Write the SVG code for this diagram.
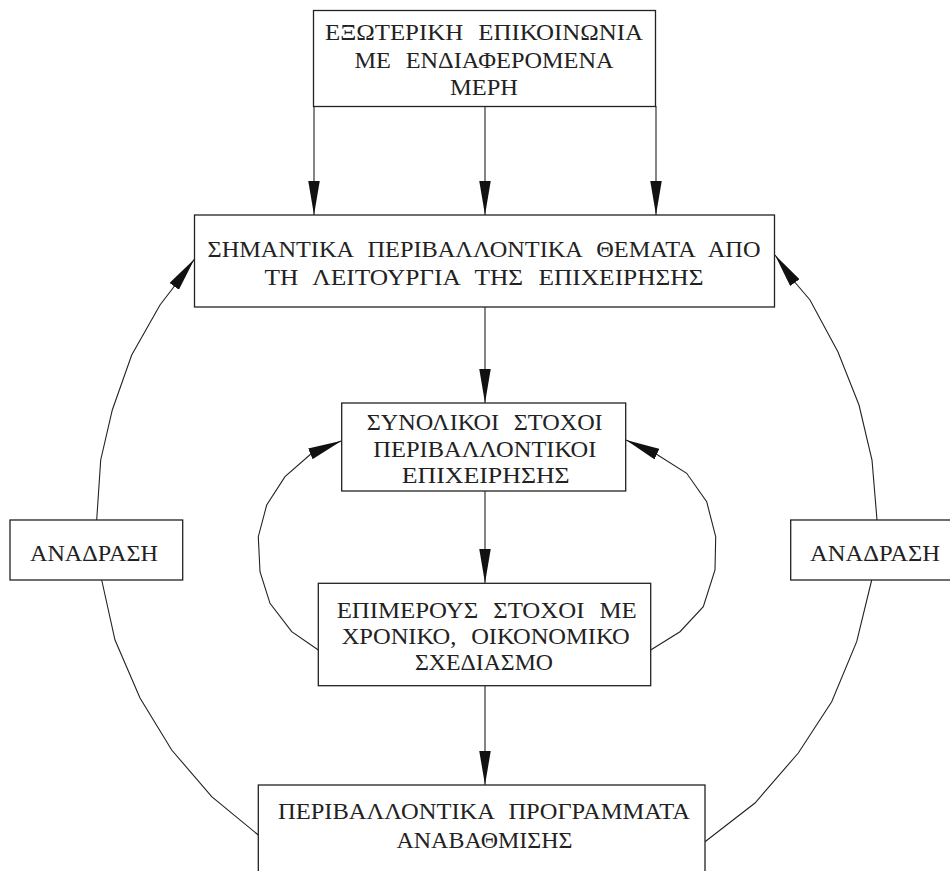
<svg xmlns="http://www.w3.org/2000/svg" width="950" height="871" viewBox="0 0 950 871">
  <defs>
    <marker id="arrow" markerUnits="userSpaceOnUse" markerWidth="35" markerHeight="12" refX="34" refY="5.75" orient="auto">
      <path d="M0,0 L34,5.75 L0,11.5 z" fill="#111"/>
    </marker>
    <style>
      .box { fill: #fff; stroke: #222; stroke-width: 1.3; }
      .lbl { font-family: "Liberation Serif", "DejaVu Serif", serif; font-size: 22.5px; fill: #222; text-anchor: start; word-spacing: 8px; }
      .edge { fill: none; stroke: #222; stroke-width: 1.1; marker-end: url(#arrow); }
      .link { fill: none; stroke: #222; stroke-width: 1.1; }
    </style>
  </defs>
  <rect width="950" height="871" fill="#fff"/>

  <!-- connectors -->
  <g id="connectors">
    <line class="edge" x1="314" y1="106" x2="314" y2="215"/>
    <line class="edge" x1="485" y1="106" x2="485" y2="215"/>
    <line class="edge" x1="656" y1="106" x2="656" y2="215"/>
    <line class="edge" x1="485" y1="307" x2="485" y2="403"/>
    <line class="edge" x1="485" y1="491" x2="485" y2="583"/>
    <line class="edge" x1="485" y1="686" x2="485" y2="785"/>
    <!-- outer feedback loops -->
    <polyline class="edge" points="96.7,520 100.7,460 112.3,410 131.7,355 160,305 173,288 194.5,259"/>
    <polyline class="edge" points="877,520 872,460 859,405 838,352 810,300 793,280 775,255"/>
    <polyline class="link" points="101.7,580 115,640 140,698 171.7,750 211.7,796.7 258.3,835"/>
    <polyline class="link" points="871.7,580 856.7,641.7 831.7,701.7 798.3,753 755,803 705,841.7"/>
    <!-- inner loops -->
    <polyline class="edge" points="318.3,650 291.7,631.7 270,603.3 260,571.7 258.3,536.7 266.7,505 285,476.7 311.7,453.3 341.7,440.7"/>
    <polyline class="edge" points="650.7,650 680,631.7 703.3,606.7 715,570 715.7,536.7 706.7,501.7 686.7,473.3 655,453.3 626,440"/>
  </g>

  <g id="external">
    <rect class="box" x="313.5" y="10.5" width="342" height="96"/>
    <text class="lbl" x="325" y="39.5" textLength="318" lengthAdjust="spacingAndGlyphs">ΕΞΩΤΕΡΙΚΗ ΕΠΙΚΟΙΝΩΝΙΑ</text>
    <text class="lbl" x="354.5" y="67.5" textLength="259" lengthAdjust="spacingAndGlyphs">ΜΕ ΕΝΔΙΑΦΕΡΟΜΕΝΑ</text>
    <text class="lbl" x="450" y="95" textLength="68" lengthAdjust="spacingAndGlyphs">ΜΕΡΗ</text>
  </g>

  <g id="issues">
    <rect class="box" x="194.5" y="215" width="580" height="92"/>
    <text class="lbl" x="207.5" y="257" textLength="553" lengthAdjust="spacingAndGlyphs">ΣΗΜΑΝΤΙΚΑ ΠΕΡΙΒΑΛΛΟΝΤΙΚΑ ΘΕΜΑΤΑ ΑΠΟ</text>
    <text class="lbl" x="264.5" y="284.5" textLength="439" lengthAdjust="spacingAndGlyphs">ΤΗ ΛΕΙΤΟΥΡΓΙΑ ΤΗΣ ΕΠΙΧΕΙΡΗΣΗΣ</text>
  </g>

  <g id="overall-goals">
    <rect class="box" x="341.7" y="403" width="284" height="88"/>
    <text class="lbl" x="366.7" y="429.5" textLength="236" lengthAdjust="spacingAndGlyphs">ΣΥΝΟΛΙΚΟΙ ΣΤΟΧΟΙ</text>
    <text class="lbl" x="373.3" y="456.7" textLength="223" lengthAdjust="spacingAndGlyphs">ΠΕΡΙΒΑΛΛΟΝΤΙΚΟΙ</text>
    <text class="lbl" x="401.7" y="483.3" textLength="168" lengthAdjust="spacingAndGlyphs">ΕΠΙΧΕΙΡΗΣΗΣ</text>
  </g>

  <g id="partial-goals">
    <rect class="box" x="318.3" y="583.3" width="332.4" height="102.4"/>
    <text class="lbl" x="336.7" y="617.7" textLength="300" lengthAdjust="spacingAndGlyphs">ΕΠΙΜΕΡΟΥΣ ΣΤΟΧΟΙ ΜΕ</text>
    <text class="lbl" x="341.7" y="644.3" textLength="288" lengthAdjust="spacingAndGlyphs">ΧΡΟΝΙΚΟ, ΟΙΚΟΝΟΜΙΚΟ</text>
    <text class="lbl" x="415" y="670" textLength="138" lengthAdjust="spacingAndGlyphs">ΣΧΕΔΙΑΣΜΟ</text>
  </g>

  <g id="programs">
    <rect class="box" x="258.3" y="785" width="446.7" height="100"/>
    <text class="lbl" x="278" y="819" textLength="412" lengthAdjust="spacingAndGlyphs">ΠΕΡΙΒΑΛΛΟΝΤΙΚΑ ΠΡΟΓΡΑΜΜΑΤΑ</text>
    <text class="lbl" x="396.5" y="848" textLength="176" lengthAdjust="spacingAndGlyphs">ΑΝΑΒΑΘΜΙΣΗΣ</text>
  </g>

  <g id="feedback-left">
    <rect class="box" x="10" y="520" width="172.7" height="60"/>
    <text class="lbl" x="30" y="560.7" textLength="128" lengthAdjust="spacingAndGlyphs">ΑΝΑΔΡΑΣΗ</text>
  </g>

  <g id="feedback-right">
    <rect class="box" x="790.7" y="520" width="175" height="60"/>
    <text class="lbl" x="810" y="560.7" textLength="130" lengthAdjust="spacingAndGlyphs">ΑΝΑΔΡΑΣΗ</text>
  </g>
</svg>
